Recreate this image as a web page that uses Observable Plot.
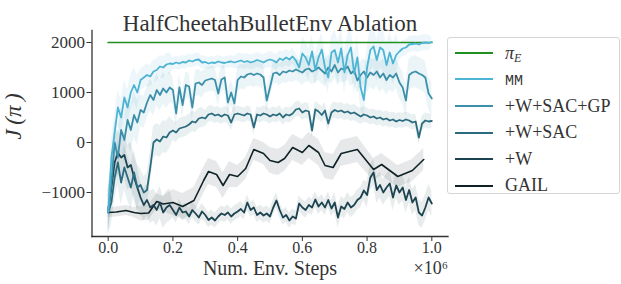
<!DOCTYPE html>
<html>
<head>
<meta charset="utf-8">
<script src="https://cdn.jsdelivr.net/npm/d3@7"></script>
<script src="https://cdn.jsdelivr.net/npm/@observablehq/plot@0.6"></script>
<style>
  body { margin: 0; background: #fff; }
  #wrap { position: relative; width: 621px; height: 284px; font-family: 'Liberation Serif', serif; color: #333; }
  #legend { position: absolute; left: 447px; top: 37px; width: 173px; height: 157px; border: 1px solid #d6d6d6; border-radius: 3px; background: rgba(255,255,255,0.9); box-sizing: border-box; padding-top: 1.5px; }
  .row { height: 26.6px; position: relative; }
  .sw { position: absolute; left: 7px; top: 12.3px; width: 38px; height: 0; border-top: 2px solid; }
  .lab { position: absolute; left: 57px; top: 1px; font-family: 'Liberation Serif', serif; font-size: 18px; line-height: 24px; color: #333; white-space: nowrap; }
</style>
</head>
<body>
<div id="wrap"><div id="legend"></div></div>
<script>
// ---- data ----
const title = "HalfCheetahBulletEnv Ablation";
const seriesNames = ["π_E", "MM", "+W+SAC+GP", "+W+SAC", "+W", "GAIL"];
const colors = ["#1f8f1f", "#4db4d3", "#3b8fab", "#2b6b7f", "#1c4350", "#0f2227"];
const xTicks = [0, 0.2, 0.4, 0.6, 0.8, 1.0];
const yTicks = [-1000, 0, 1000, 2000];
const expertReturn = 2000;
const expertSteps = [0, 1.0];

// noisy curves sampled every 0.01 x 1e6 steps (101 values each)
const mmValues = [
  -1400, -300, 200, 700, 500, 900, 700, 1000, 1150, 1000,
  1250, 1300, 1350, 1320, 1420, 1450, 1520, 1500, 1560, 1580,
  1570, 1600, 1580, 1610, 1600, 1640, 1620, 1650, 1660, 1600,
  1610, 1580, 1600, 1590, 1620, 1600, 1590, 1610, 1620, 1600,
  1620, 1640, 1610, 1630, 1600, 1620, 1650, 1630, 1600, 1640,
  1660, 1640, 1600, 1680, 1650, 1700, 1660, 1720, 1640, 1500,
  1780, 1700, 1550, 1820, 1450, 1700, 1860, 1500, 1300, 1800,
  1850, 1600, 1880, 1400, 1750, 1900, 1380, 1700, 1100, 850,
  1500, 1850, 1920, 1650, 1900, 1850, 1550, 1800, 1580, 1750,
  1820, 1880, 1900, 1960, 1970, 1980, 1960, 1990, 2000, 1990,
  2010
];
const gpValues = [
  -1400, -800, 0, -300, 250, 50, 450, 250, 550, 400,
  650, 600, 800, 950, 850, 1050, 950, 1080, 1000, 1100,
  1050, 580, 1100, 750, 1150, 1120, 700, 1180, 1200, 1150,
  1240, 1260, 1280, 1250, 980, 1260, 1300, 800, 1000, 780,
  1250, 1320, 1300, 1360, 1380, 1350, 1380, 1360, 1300, 840,
  1100, 1380, 1400, 1350, 1420, 1400, 1440, 1420, 1460, 1430,
  1400, 1460, 1480, 1420, 1450, 1500, 1440, 1380, 1500, 1420,
  1550, 1400, 1480, 1450, 1520, 1380, 1440, 1240, 1350, 1420,
  1300, 1400, 1350, 1420, 1300, 1380, 1250, 1350, 1300, 1380,
  1200, 1100, 840, 1350, 1400, 1420, 1380, 1350, 1300, 980,
  880
];
const sacValues = [
  -1400, -1200, -700, -400, -800, -500, -700, -900, -600, -900,
  -850, -1000, -950, -500, 0, 60, 20, 120, 100, 200,
  240, 200, 280, 300, 320, 360, 420, 400, 480, 500,
  480, 560, 580, 540, 560, 520, 560, 540, 400, 560,
  580, 560, 540, 580, 560, 300, 560, 540, 580, 560,
  520, 560, 540, 580, 500, 560, 540, 580, 660, 680,
  600, 640, 620, 240, 660, 620, 550, 640, 380, 600,
  650, 620, 640, 600, 620, 580, 600, 560, 520, 560,
  540, 500, 520, 480, 500, 460, 480, 440, 460, 420,
  450, 430, 460, 440, 400, 420, 100, 380, 440, 420,
  430
];
const wValues = [
  -1350, -900, -400, -200, -300, -250, -500, -450, -700, -900,
  -1100, -1250, -1150, -1300, -1250, -1350, -1200, -1400, -1300, -1250,
  -1350, -1450, -1300, -1400, -1380, -1480, -1350, -1420, -1500, -1380,
  -1450, -1550, -1500, -1560, -1480, -1420, -1450, -1400, -1480, -1420,
  -1380, -1330, -1400, -1200, -1350, -1300, -1450, -1400, -1460, -1420,
  -1480, -1300, -1160, -1350, -1500, -1450, -1560, -1480, -1520, -1220,
  -1300, -1350, -1250, -1300, -1140, -1280, -1200, -1300, -1150, -1320,
  -1200, -1500, -1280, -1330, -1200, -1300, -1250, -1150, -1100, -960,
  -1050, -700, -600, -950, -850, -1000, -900, -820, -1100, -860,
  -1000, -900, -1150, -950, -1200, -1100, -1400, -1460, -1300, -1100,
  -1220
];
// GAIL evaluated less often
const gailSteps = [0, 0.025, 0.055, 0.08, 0.10, 0.125, 0.15, 0.17, 0.20, 0.23, 0.265, 0.295, 0.31, 0.335, 0.355, 0.375, 0.40, 0.425, 0.45, 0.48, 0.50, 0.525, 0.545, 0.57, 0.60, 0.62, 0.65, 0.67, 0.695, 0.72, 0.77, 0.82, 0.845, 0.895, 0.94, 0.975];
const gailValues = [-1400, -1390, -1360, -1400, -1420, -1410, -1180, -1230, -1200, -1280, -1160, -760, -580, -640, -860, -640, -680, -520, -140, -220, -360, -400, -320, -100, -200, -60, -200, -460, -500, -220, -140, -540, -440, -680, -560, -340];

// spread of the shaded band, one value per 0.1 x 1e6 segment
const mmSpread   = [350, 220, 130, 120, 150, 160, 320, 420, 420, 160, 100];
const gpSpread   = [450, 320, 260, 250, 250, 220, 260, 260, 300, 320, 320];
const sacSpread  = [450, 320, 200, 160, 150, 150, 160, 160, 150, 150, 150];
const wSpread    = [450, 320, 160, 150, 150, 150, 160, 200, 260, 260, 260];
const gailSpread = [100, 150, 260, 260, 220, 260, 260, 260, 220, 220, 220];

// ---- build tables ----
function build(name, steps, values, spread) {
  return values.map((v, i) => {
    const t = steps[i];
    const s = spread[Math.min(10, Math.floor(t * 10 + 1e-9))];
    return { name, t, v, lo: v - s, hi: v + s };
  });
}
const step01 = mmValues.map((_, i) => i / 100);
const tables = [
  build("MM", step01, mmValues, mmSpread),
  build("+W+SAC+GP", step01, gpValues, gpSpread),
  build("+W+SAC", step01, sacValues, sacSpread),
  build("+W", step01, wValues, wSpread),
  build("GAIL", gailSteps, gailValues, gailSpread)
];
const expert = expertSteps.map(t => ({ name: "π_E", t, v: expertReturn }));
const colorOf = Object.fromEntries(seriesNames.map((n, i) => [n, colors[i]]));

const FONT = "'Liberation Serif', serif";
const marks = [];
for (const tb of tables) {
  marks.push(Plot.areaY(tb, { x: "t", y1: "lo", y2: "hi", fill: colorOf[tb[0].name], fillOpacity: 0.1 }));
}
marks.push(Plot.lineY(expert, { x: "t", y: "v", stroke: colorOf["π_E"], strokeWidth: 1.7 }));
for (const tb of tables.slice().reverse()) {
  marks.push(Plot.lineY(tb, { x: "t", y: "v", stroke: colorOf[tb[0].name], strokeWidth: tb[0].name === "GAIL" ? 1.6 : 1.8 }));
}
marks.push(
  Plot.frame({ anchor: "left", stroke: "#333", strokeWidth: 1.3 }),
  Plot.frame({ anchor: "bottom", stroke: "#333", strokeWidth: 1.3 }),
  Plot.axisX({ ticks: xTicks, tickSize: 5, tickPadding: 0, tickFormat: d3.format(".1f"), label: null, fontSize: 16, fontFamily: FONT, stroke: "#333", fill: "#333" }),
  Plot.axisY({ ticks: yTicks, tickSize: 5, tickPadding: 2, tickFormat: d => d < 0 ? "\u2212" + Math.abs(d) : String(d), label: null, fontSize: 17, fontFamily: FONT, stroke: "#333", fill: "#333" }),
  Plot.text([title], { frameAnchor: "top", dy: -16, fontSize: 23, fontFamily: FONT, fill: "#333" }),
  Plot.text(["Num. Env. Steps"], { frameAnchor: "bottom", dy: 38, fontSize: 20, fontFamily: FONT, fill: "#333" }),
  Plot.text(["\u00d710\u2076"], { frameAnchor: "bottom-right", dx: 0, dy: 37, textAnchor: "end", fontSize: 18, fontFamily: FONT, fill: "#333" }),
  Plot.text(["J\u2009(π\u2009)"], { frameAnchor: "left", dx: -78, dy: 6, rotate: -90, fontSize: 23, fontStyle: "italic", fontFamily: FONT, fill: "#333" })
);

const chart = Plot.plot({
  width: 621,
  height: 284,
  marginLeft: 91.5,
  marginRight: 173.5,
  marginTop: 30,
  marginBottom: 48,
  style: { fontFamily: FONT, fontSize: "17px", color: "#333", background: "#fff" },
  x: { domain: [-0.05, 1.05] },
  y: { domain: [-1880, 2240] },
  marks
});
const wrap = document.getElementById("wrap");
wrap.insertBefore(chart, wrap.firstChild);

// legend
const legend = document.getElementById("legend");
const labelsHtml = {
  "π_E": '<i>π</i><sub style="font-size:12px;vertical-align:-3px"><i>E</i></sub>',
  "MM": '<span style="font-family:\'Liberation Mono\',monospace;font-size:15px">MM</span>'
};
seriesNames.forEach((n, i) => {
  const row = document.createElement("div");
  row.className = "row";
  row.innerHTML = `<div class="sw" style="border-color:${colors[i]}"></div><div class="lab">${labelsHtml[n] || n}</div>`;
  legend.appendChild(row);
});
</script>
</body>
</html>
